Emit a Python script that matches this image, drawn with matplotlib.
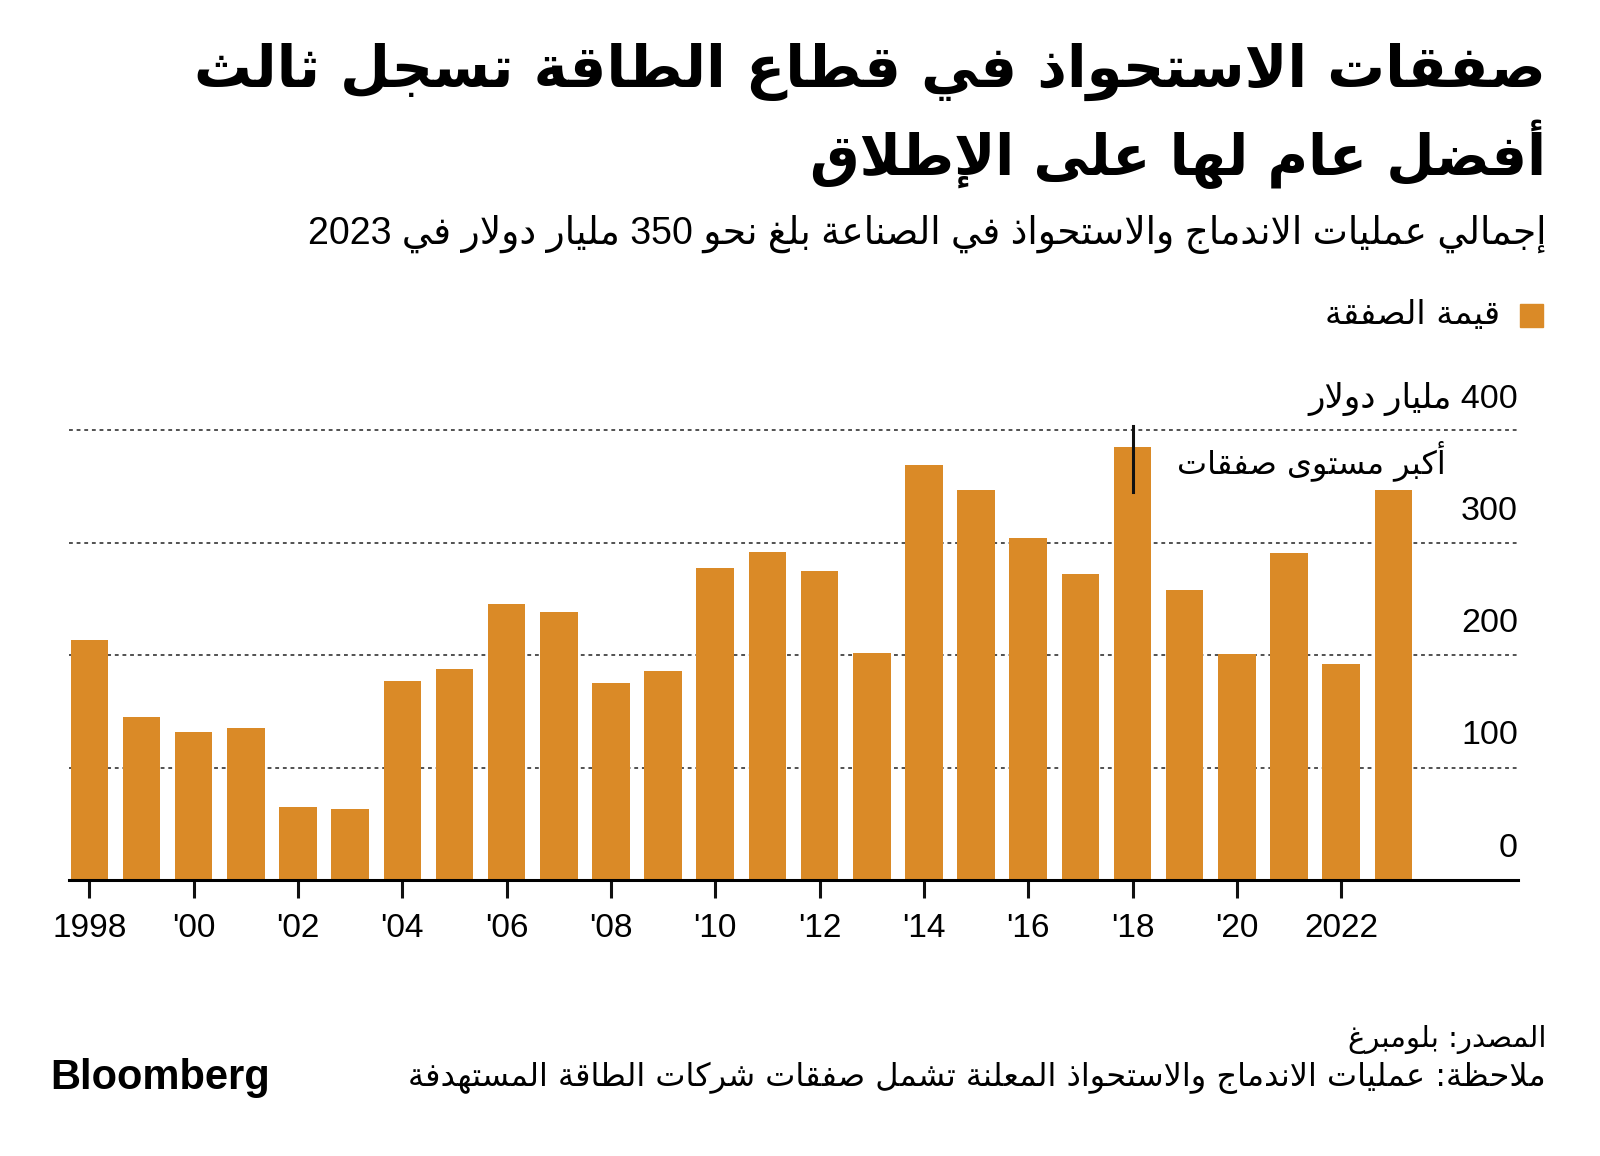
import re
import numpy as np
import matplotlib
matplotlib.use("Agg")
import matplotlib.pyplot as plt
import matplotlib.transforms as mtransforms

# -----------------------------
# Data (billion USD)
# -----------------------------
years = list(range(1998, 2024))
deal_value = [213, 145, 132, 135, 65, 63, 177, 188, 245, 238,
              175, 186, 277, 292, 275, 202, 369, 347, 304, 272,
              385, 258, 201, 291, 192, 347]

tick_years = list(range(1998, 2023, 2))
tick_labels = ["1998", "'00", "'02", "'04", "'06", "'08", "'10",
               "'12", "'14", "'16", "'18", "'20", "2022"]
y_ticks = [0, 100, 200, 300, 400]
y_labels = ["0", "100", "200", "300", "400 مليار دولار"]

title_lines = ["صفقات الاستحواذ في قطاع الطاقة تسجل ثالث",
               "أفضل عام لها على الإطلاق"]
subtitle = "إجمالي عمليات الاندماج والاستحواذ في الصناعة بلغ نحو 350 مليار دولار في 2023"
legend_label = "قيمة الصفقة"
peak_note = "أكبر مستوى صفقات"
peak_year = 2018
source = "المصدر: بلومبرغ"
note = "ملاحظة: عمليات الاندماج والاستحواذ المعلنة تشمل صفقات شركات الطاقة المستهدفة"

BAR = "#DA8A27"

# -----------------------------
# Minimal Arabic shaping (matplotlib has no shaping / bidi)
# -----------------------------
_right = {"\u0622": 0xFE81, "\u0623": 0xFE83, "\u0624": 0xFE85, "\u0625": 0xFE87,
          "\u0627": 0xFE8D, "\u0629": 0xFE93, "\u062F": 0xFEA9, "\u0630": 0xFEAB,
          "\u0631": 0xFEAD, "\u0632": 0xFEAF, "\u0648": 0xFEED, "\u0649": 0xFEEF}
_dual = {"\u0626": 0xFE89, "\u0628": 0xFE8F, "\u062A": 0xFE95, "\u062B": 0xFE99,
         "\u062C": 0xFE9D, "\u062D": 0xFEA1, "\u062E": 0xFEA5, "\u0633": 0xFEB1,
         "\u0634": 0xFEB5, "\u0635": 0xFEB9, "\u0636": 0xFEBD, "\u0637": 0xFEC1,
         "\u0638": 0xFEC5, "\u0639": 0xFEC9, "\u063A": 0xFECD, "\u0641": 0xFED1,
         "\u0642": 0xFED5, "\u0643": 0xFED9, "\u0644": 0xFEDD, "\u0645": 0xFEE1,
         "\u0646": 0xFEE5, "\u0647": 0xFEE9, "\u064A": 0xFEF1}
FORMS = {"\u0621": (chr(0xFE80),)}
for c, b in _right.items():
    FORMS[c] = (chr(b), chr(b + 1))
for c, b in _dual.items():
    FORMS[c] = (chr(b), chr(b + 1), chr(b + 2), chr(b + 3))
LAM_ALEF = {"\u0622": 0xFEF5, "\u0623": 0xFEF7, "\u0625": 0xFEF9, "\u0627": 0xFEFB}


def shape(s):
    out, i, prev_dual = [], 0, False
    while i < len(s):
        c = s[i]
        nxt = s[i + 1] if i + 1 < len(s) else ""
        if c == "\u0644" and nxt in LAM_ALEF:
            out.append(chr(LAM_ALEF[nxt] + (1 if prev_dual else 0)))
            prev_dual = False
            i += 2
            continue
        if c in FORMS:
            f = FORMS[c]
            to_next = len(f) == 4 and nxt in FORMS and len(FORMS[nxt]) > 1
            if len(f) == 1:
                g = f[0]
            elif prev_dual and to_next:
                g = f[3]
            elif prev_dual:
                g = f[1]
            elif to_next:
                g = f[2]
            else:
                g = f[0]
            out.append(g)
            prev_dual = len(f) == 4
        else:
            out.append(c)
            prev_dual = False
        i += 1
    return "".join(out)


def ar(s):
    v = shape(s)[::-1]
    return re.sub(r"[0-9A-Za-z']+", lambda m: m.group(0)[::-1], v)


# -----------------------------
# Figure
# -----------------------------
plt.rcParams["font.family"] = ["Liberation Sans", "DejaVu Sans"]
W, H = 1600, 1156
fig = plt.figure(figsize=(16, 11.56), dpi=100)

def fx(px):
    return px / W

def fy(py):
    return 1 - py / H

# title block
fig.text(fx(1546), fy(72), ar(title_lines[0]), ha="right", va="center",
         fontsize=41.5, fontweight="bold", family=["DejaVu Sans"])
fig.text(fx(1546), fy(154), ar(title_lines[1]), ha="right", va="center",
         fontsize=40, fontweight="bold", family=["DejaVu Sans"])
fig.text(fx(1546), fy(234), ar(subtitle), ha="right", va="center",
         fontsize=27, family=["Liberation Sans", "DejaVu Sans"])

# legend
fig.patches.append(plt.Rectangle((fx(1520), fy(327)), fx(23), 23 / H,
                                 transform=fig.transFigure, color=BAR))
fig.text(fx(1500), fy(314), ar(legend_label), ha="right", va="center",
         fontsize=24, family=["DejaVu Sans"])

# axes
ax = fig.add_axes([fx(69), fy(880), fx(1518) - fx(69), (880 - 407.5) / H])
ax.bar(years, deal_value, width=0.72, color=BAR, zorder=2)
ax.set_xlim(1997.61, 2025.39)
ax.set_ylim(0, 420)

for sp in ["top", "right", "left"]:
    ax.spines[sp].set_visible(False)
ax.spines["bottom"].set_linewidth(2.2)
ax.spines["bottom"].set_zorder(3)

ax.set_yticks([])
for v in y_ticks[1:]:
    ax.axhline(v, color="#222222", lw=1.1, ls=(0, (2.5, 2.5)), zorder=1)

trans = mtransforms.blended_transform_factory(ax.transAxes, ax.transData)
for v, lab in zip(y_ticks, y_labels):
    ax.text(1.0, v + 28, ar(lab), transform=trans, ha="right", va="center",
            fontsize=24.5, family=["Liberation Sans", "DejaVu Sans"])

ax.set_xticks(tick_years)
ax.set_xticklabels(tick_labels, fontsize=24)
ax.tick_params(axis="x", length=13, width=2.2, pad=11, color="#111111")

# peak annotation
ax.plot([peak_year, peak_year], [404, 345], color="#111111", lw=2.2,
        zorder=4, clip_on=False)
ax.text(2024.0, 373, ar(peak_note), ha="right", va="center", fontsize=23,
        family=["DejaVu Sans"])

# footer
fig.text(fx(1546), fy(1039), ar(source), ha="right", va="center",
         fontsize=21, family=["DejaVu Sans"])
fig.text(fx(1546), fy(1078), ar(note), ha="right", va="center",
         fontsize=23, family=["DejaVu Sans"])
fig.text(fx(50), fy(1078), "Bloomberg", ha="left", va="center",
         fontsize=30, fontweight="bold", family=["Liberation Sans"])

fig.savefig("out.png", dpi=100)
